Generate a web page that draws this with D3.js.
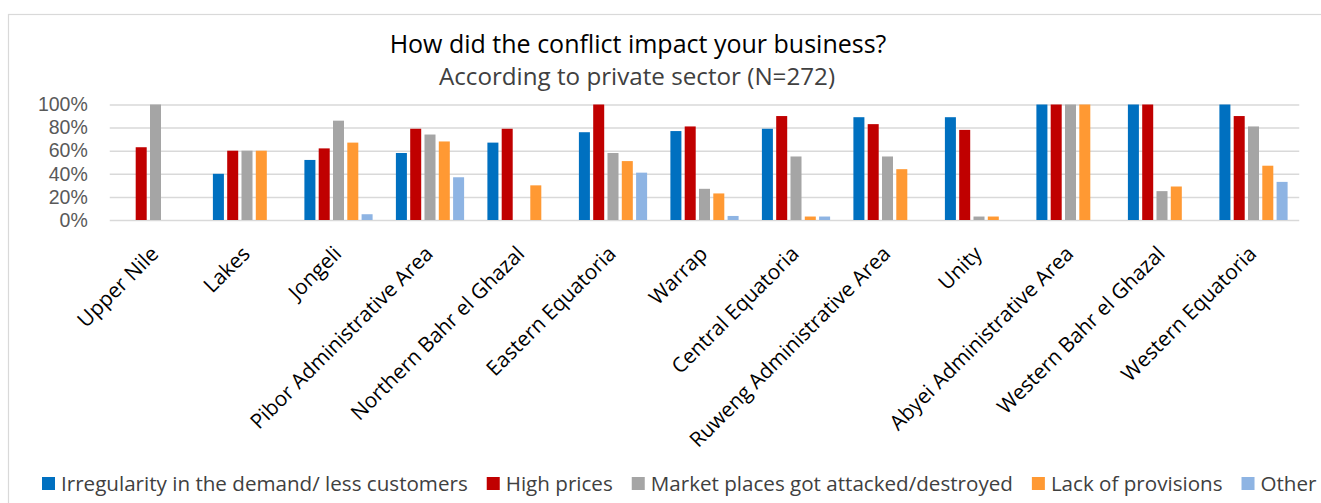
<!DOCTYPE html>
<html>
<head>
<meta charset="utf-8">
<script src="https://cdn.jsdelivr.net/npm/d3@7"></script>
<style>
  html, body { margin: 0; padding: 0; background: #fff; }
  svg { display: block; }
</style>
</head>
<body>
<svg id="chart" width="1321" height="503"></svg>
<script>
// Regions (categories along the x axis)
const regions = [
  "Upper Nile", "Lakes", "Jongeli", "Pibor Administrative Area",
  "Northern Bahr el Ghazal", "Eastern Equatoria", "Warrap",
  "Central Equatoria", "Ruweng Administrative Area", "Unity",
  "Abyei Administrative Area", "Western Bahr el Ghazal", "Western Equatoria"
];

// Series names (legend order)
const seriesNames = [
  "Irregularity in the demand/ less customers",
  "High prices",
  "Market places got attacked/destroyed",
  "Lack of provisions",
  "Other"
];

// Share of respondents per region, in percent
const irregularDemand = [0, 40, 52, 58, 67, 76, 77, 79, 89, 89, 100, 100, 100];
const highPrices      = [63, 60, 62, 79, 79, 100, 81, 90, 83, 78, 100, 100, 90];
const marketsAttacked = [100, 60, 86, 74, 0, 58, 27, 55, 55, 3, 100, 25, 81];
const lackProvisions  = [0, 60, 67, 68, 30, 51, 23, 3, 44, 3, 100, 29, 47];
const other           = [0, 0, 5, 37, 0, 41, 3.5, 3, 0, 0, 0, 0, 33];

const seriesValues = [irregularDemand, highPrices, marketsAttacked, lackProvisions, other];
const seriesColors = ["#0070C0", "#C00000", "#A5A5A5", "#FF9933", "#8EB4E3"];

const yTicks = [0, 20, 40, 60, 80, 100];

const FONT = "'Open Sans', sans-serif";
const svg = d3.select("#chart");

// Outer chart frame
svg.append("rect")
  .attr("x", 8.5).attr("y", 14.5)
  .attr("width", 1330).attr("height", 500)
  .attr("fill", "none")
  .attr("stroke", "#D9D9D9")
  .attr("stroke-width", 1.2);

// Titles
svg.append("text")
  .attr("x", 638).attr("y", 53)
  .attr("text-anchor", "middle")
  .attr("font-family", FONT)
  .attr("font-size", 25)
  .attr("fill", "#000")
  .text("How did the conflict impact your business?");

svg.append("text")
  .attr("x", 637).attr("y", 85)
  .attr("text-anchor", "middle")
  .attr("font-family", FONT)
  .attr("font-size", 24.2)
  .attr("fill", "#404040")
  .text("According to private sector (N=272)");

// Scales
const plotLeft = 109.75, plotRight = 1299.25;
const yTop = 104.5, yBottom = 220;

const x0 = d3.scaleBand().domain(regions).range([plotLeft, plotRight]).padding(0);
const groupPad = 10;
const x1 = d3.scaleBand()
  .domain(d3.range(seriesNames.length))
  .range([groupPad, x0.bandwidth() - groupPad])
  .paddingInner(0.23)
  .paddingOuter(0.115);
const y = d3.scaleLinear().domain([0, 100]).range([yBottom, yTop]);

// Gridlines and y tick labels
const yAxis = d3.axisLeft(y)
  .tickValues(yTicks)
  .tickSize(-(plotRight - plotLeft))
  .tickPadding(22)
  .tickFormat(d => d + "%");

const yg = svg.append("g")
  .attr("transform", `translate(${plotLeft},0)`)
  .call(yAxis)
  .attr("font-family", "'Liberation Sans', Arial, sans-serif")
  .attr("font-size", 19.5);
yg.select(".domain").remove();
yg.selectAll(".tick line")
  .attr("stroke", "#D9D9D9")
  .attr("stroke-width", 1.5);
yg.selectAll(".tick text")
  .attr("fill", "#595959");

// Bars
const groups = svg.append("g").selectAll("g")
  .data(regions)
  .join("g")
  .attr("transform", d => `translate(${x0(d)},0)`);

groups.selectAll("rect")
  .data((d, i) => seriesValues.map((vals, s) => ({ s, v: vals[i] })).filter(e => e.v > 0))
  .join("rect")
  .attr("x", e => x1(e.s))
  .attr("width", x1.bandwidth())
  .attr("y", e => y(e.v))
  .attr("height", e => y(0) - y(e.v))
  .attr("fill", e => seriesColors[e.s]);

// Category labels, rotated
const xAxis = d3.axisBottom(x0).tickSize(0).tickPadding(0);
const xg = svg.append("g")
  .attr("transform", `translate(0,${yBottom})`)
  .call(xAxis)
  .attr("font-family", FONT)
  .attr("font-size", 20.8);
xg.select(".domain").remove();
xg.selectAll(".tick text")
  .attr("fill", "#000")
  .attr("text-anchor", "end")
  .attr("dy", "0.35em")
  .attr("y", 0)
  .attr("transform", "translate(-1,30) rotate(-45)");

// Legend
const legend = svg.append("g")
  .attr("transform", "translate(42,0)")
  .attr("font-family", FONT)
  .attr("font-size", 20.6);
let lx = 0;
seriesNames.forEach((name, i) => {
  const item = legend.append("g").attr("transform", `translate(${lx},0)`);
  item.append("rect")
    .attr("x", 0).attr("y", 477)
    .attr("width", 13).attr("height", 13)
    .attr("fill", seriesColors[i]);
  const t = item.append("text")
    .attr("x", 19).attr("y", 491)
    .attr("fill", "#404040")
    .text(name);
  lx += 19 + t.node().getComputedTextLength() + 19;
});
</script>
</body>
</html>
